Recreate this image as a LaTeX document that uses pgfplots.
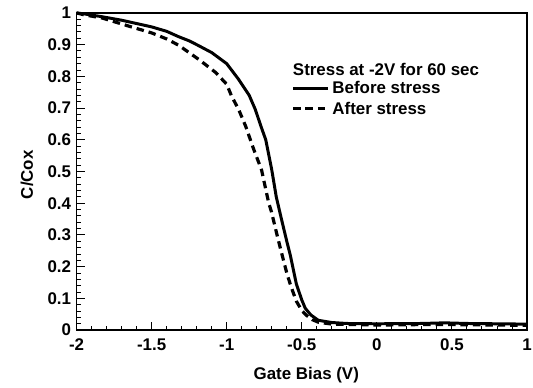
\documentclass[border=0pt]{standalone}
\usepackage{pgfplots}
\pgfplotsset{compat=1.18}
\usepackage{fontspec}
\setmainfont{Liberation Sans}
\begin{document}
\begin{tikzpicture}
\useasboundingbox (-77pt,-58pt) rectangle (459pt,332pt);
\begin{axis}[
  scale only axis,
  width=453pt, height=319pt,
  xmin=-2, xmax=1, ymin=0, ymax=1,
  xtick={-2,-1.5,-1,-0.5,0,0.5,1},
  ytick={0,0.1,0.2,0.3,0.4,0.5,0.6,0.7,0.8,0.9,1},
  xticklabels={-2,-1.5,-1,-0.5,0,0.5,1},
  yticklabels={0,0.1,0.2,0.3,0.4,0.5,0.6,0.7,0.8,0.9,1},
  minor x tick num=4, minor y tick num=4,
  tick align=inside, xtick pos=bottom, ytick pos=left,
  major tick length=8pt, minor tick length=4pt,
  axis line style={line width=1.3pt},
  every tick/.style={line width=1pt, black},
  tick label style={font=\fontsize{17}{19}\selectfont\bfseries},
  xticklabel style={yshift=-5pt},
  yticklabel style={xshift=-2pt},
  label style={font=\fontsize{17}{19}\selectfont\bfseries},
  xlabel={Gate Bias (V)},
  ylabel={C/Cox},
  xlabel style={at={(axis description cs:0.51,-0.141)}, anchor=center},
  ylabel style={at={(axis description cs:-0.110,0.49)}, anchor=center},
  legend style={draw=none, fill=none, at={(axis description cs:0.47,0.795)}, anchor=north west,
    font=\fontsize{17}{19}\selectfont\bfseries, row sep=3.5pt,
    nodes={inner ysep=1.5pt, inner xsep=3pt}},
  legend cell align=left,
  legend image code/.code={\draw[#1] (0pt,0pt) -- (35pt,0pt);},
  clip=false,
]
\addplot[black, line width=3pt] coordinates {
(-2.00,1.000) (-1.95,0.997) (-1.83,0.988) (-1.70,0.977) (-1.50,0.956)
(-1.40,0.942) (-1.32,0.925) (-1.25,0.912) (-1.20,0.900) (-1.10,0.875)
(-1.00,0.840) (-0.92,0.790) (-0.85,0.740) (-0.81,0.696) (-0.77,0.640)
(-0.74,0.600) (-0.70,0.505) (-0.67,0.420) (-0.636,0.351) (-0.60,0.280)
(-0.576,0.235) (-0.536,0.145) (-0.50,0.095) (-0.477,0.069) (-0.44,0.048)
(-0.39,0.031) (-0.30,0.024) (-0.20,0.021) (0,0.020) (0.3,0.021)
(0.45,0.023) (0.6,0.021) (0.8,0.020) (1.0,0.019)
};
\addlegendentry{Before stress}
\addplot[black, line width=3.2pt, dash pattern=on 7.5pt off 5pt] coordinates {
(-2.00,1.000) (-1.95,0.994) (-1.83,0.984) (-1.65,0.958) (-1.50,0.937)
(-1.40,0.918) (-1.32,0.898) (-1.185,0.853) (-1.073,0.812) (-1.00,0.775)
(-0.967,0.737) (-0.92,0.695) (-0.874,0.643) (-0.821,0.571) (-0.768,0.505)
(-0.72,0.400) (-0.702,0.373) (-0.67,0.310) (-0.642,0.257) (-0.60,0.180)
(-0.589,0.163) (-0.57,0.135) (-0.536,0.091) (-0.50,0.062) (-0.47,0.047)
(-0.43,0.033) (-0.39,0.025) (-0.30,0.019) (0,0.016) (0.4,0.018)
(0.6,0.017) (1.0,0.015)
};
\addlegendentry{After stress}
\node[anchor=west, font=\fontsize{17}{19}\selectfont\bfseries, inner sep=0pt]
  at (axis description cs:0.480,0.8215) {Stress at -2V for 60 sec};
\end{axis}
\end{tikzpicture}
\end{document}
